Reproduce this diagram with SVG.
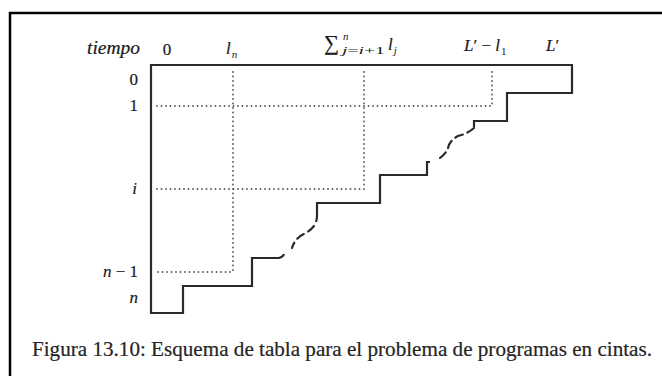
<svg xmlns="http://www.w3.org/2000/svg" width="662" height="376" viewBox="0 0 662 376">
<style>
.frame{fill:none;stroke:#000;stroke-width:2.5}
.solid{fill:none;stroke:#2a2a2a;stroke-width:2.2;stroke-linejoin:miter}
.dash{fill:none;stroke:#2a2a2a;stroke-width:2.2;stroke-dasharray:8 5;stroke-linecap:round}
.dot{fill:none;stroke:#555;stroke-width:1.8;stroke-dasharray:0 4.5;stroke-linecap:round}
text{font-family:"Liberation Serif","DejaVu Serif",serif;fill:#1a1a1a;stroke:#1a1a1a;stroke-width:0.2}
.lab{font-size:17px}
.it{font-style:italic}
.sub{font-size:11px;stroke:none}
.cap{font-size:21px;fill:#262626}
</style>
<rect width="662" height="376" fill="#fff"/>
<path class="frame" d="M10,376 V13 H662"/>
<g id="table">
<path class="solid" d="M474,127 V121 H507 V93 H572 V65 H151 V313 H183 V286 H252 V258 H279 Q283,257 284,254"/>
<path class="solid" d="M316,222 Q317,219 317,216 V203 H380 V175 H427 V162 H430"/>
</g>
<g id="connectors">
<path class="dash" d="M474,128 Q467,134 458,136 Q450,140 448,148 Q445,156 436,160"/>
<path class="dash" d="M314,226 Q310,231 304,234 Q295,238 292,248"/>
<path class="dot" d="M157,106 H492"/>
<path class="dot" d="M157,189 H365"/>
<path class="dot" d="M158,272 H234"/>
<path class="dot" d="M233,72 V272"/>
<path class="dot" d="M364,72 V189"/>
<path class="dot" d="M492,72 V106"/>
</g>
<g id="header">
<text class="lab it" x="87" y="54" style="font-size:18px" textLength="53" lengthAdjust="spacingAndGlyphs">tiempo</text>
<text class="lab" x="167" y="55" text-anchor="middle">0</text>
<text class="lab it" x="226" y="54">l<tspan class="sub" dx="1" dy="4">n</tspan></text>
<text class="lab" x="324" y="50" style="font-size:21px">∑</text>
<text class="sub it" x="343" y="40">n</text>
<text class="sub" x="342" y="54" textLength="43" lengthAdjust="spacingAndGlyphs"><tspan class="it">j</tspan>=<tspan class="it">i</tspan>+1</text>
<text class="lab it" x="388" y="50">l<tspan class="sub" dx="1" dy="4">j</tspan></text>
<text class="lab" x="464" y="51"><tspan class="it">L</tspan>′ − <tspan class="it">l</tspan><tspan class="sub" dx="1" dy="4">1</tspan></text>
<text class="lab" x="546" y="51"><tspan class="it">L</tspan>′</text>
</g>
<g id="rows">
<text class="lab" x="138" y="85" text-anchor="end">0</text>
<text class="lab" x="138" y="111" text-anchor="end">1</text>
<text class="lab it" x="137" y="194" text-anchor="end">i</text>
<text class="lab" x="138" y="277" text-anchor="end"><tspan class="it">n</tspan> − 1</text>
<text class="lab it" x="138" y="303" text-anchor="end">n</text>
</g>
<g id="caption">
<text class="cap" x="32" y="356" textLength="620" lengthAdjust="spacingAndGlyphs">Figura 13.10: Esquema de tabla para el problema de programas en cintas.</text>
</g>
</svg>
